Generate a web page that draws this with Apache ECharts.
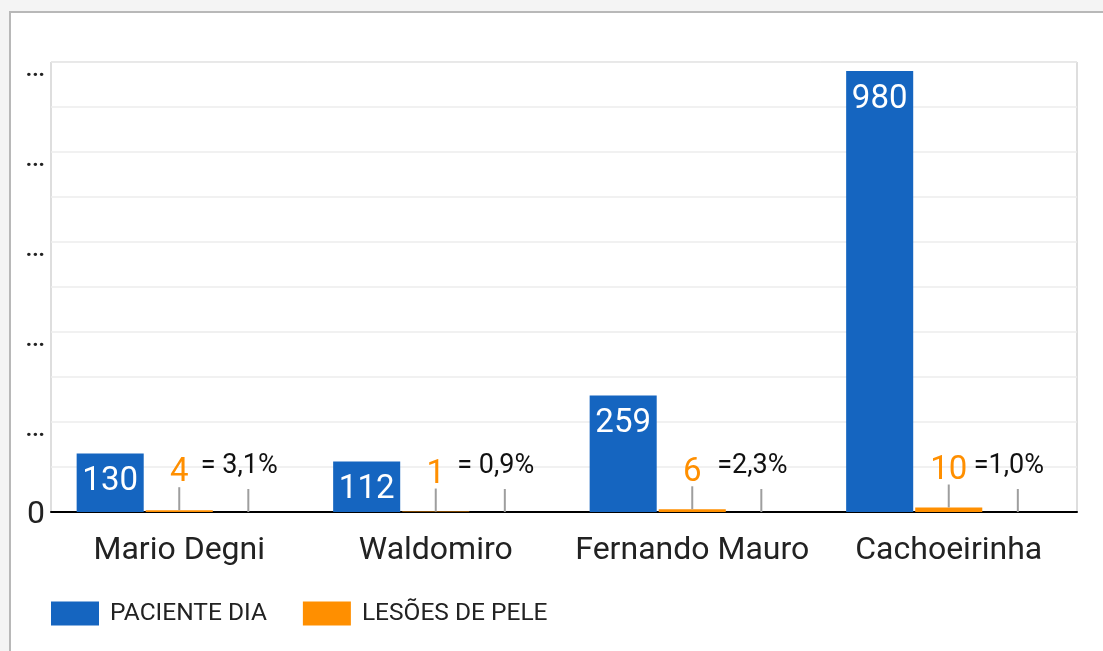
<!DOCTYPE html>
<html>
<head>
<meta charset="utf-8">
<script src="https://cdn.jsdelivr.net/npm/echarts@6/dist/echarts.min.js"></script>
<style>
  html, body { margin: 0; padding: 0; background: #f4f4f4; }
  #frame {
    position: absolute; left: 9px; top: 11px; width: 1200px; height: 700px;
    background: #fff; border-left: 2px solid #b8b8b8; border-top: 2px solid #b8b8b8;
  }
  #chart { position: absolute; left: 0; top: 0; width: 1103px; height: 651px; }
</style>
</head>
<body>
<div id="frame"></div>
<div id="chart"></div>
<script>
// dados do gráfico
const categories = ['Mario Degni', 'Waldomiro', 'Fernando Mauro', 'Cachoeirinha'];
const pacienteDia = [130, 112, 259, 980];
const lesoesPele = [4, 1, 6, 10];
const taxaValues = [0, 0, 0, 0];
const taxaLabels = ['= 3,1%', '= 0,9%', '=2,3%', '=1,0%'];
const yTicks = [0, 200, 400, 600, 800, 1000];

const chart = echarts.init(document.getElementById('chart'));

const stem = { width: 2, height: 23, backgroundColor: '#9e9e9e' };

const option = {
  animation: false,
  textStyle: { fontFamily: 'Roboto' },
  grid: {
    left: 51, right: 26, top: 62, bottom: 139,
    show: true, borderColor: '#bdbdbd', borderWidth: 1
  },
  legend: {
    data: ['PACIENTE DIA', 'LESÕES DE PELE'],
    left: 51, top: 601, padding: 0,
    icon: 'rect', itemWidth: 48, itemHeight: 24, itemGap: 36,
    textStyle: { fontSize: 24.5, color: '#222', padding: [0, 0, 0, 6] }
  },
  xAxis: {
    type: 'category',
    data: categories,
    axisLine: { lineStyle: { color: '#000', width: 2 } },
    axisTick: { show: false },
    axisLabel: { interval: 0, fontSize: 32, color: '#222', margin: 23 }
  },
  yAxis: {
    type: 'value',
    min: 0, max: 1000, interval: 100,
    axisLine: { show: false },
    axisTick: { show: false },
    splitLine: { lineStyle: { color: '#ececec', width: 1.5 } },
    axisLabel: {
      margin: 6,
      formatter: (v) => {
        if (!yTicks.includes(v)) return '';
        return v === 0 ? '{z|0}' : '{d|...}';
      },
      rich: {
        z: { fontSize: 32, color: '#222', padding: [6, 0, 0, 0] },
        d: { fontSize: 22, color: '#222', fontWeight: 'bold', padding: [16, 0, 0, 0] }
      }
    }
  },
  series: [
    {
      name: 'PACIENTE DIA',
      type: 'bar',
      data: pacienteDia,
      barGap: '3%',
      barCategoryGap: '20%',
      itemStyle: { color: '#1565c0' },
      label: {
        show: true, position: 'insideTop', distance: 12,
        color: '#fff', fontSize: 33
      }
    },
    {
      name: 'LESÕES DE PELE',
      type: 'bar',
      data: lesoesPele,
      itemStyle: { color: '#ff8f00' },
      label: {
        show: true, position: 'top', distance: 0,
        formatter: (p) => '{v|' + p.value + '}\n{s|}',
        rich: {
          v: { fontSize: 33, color: '#ff8f00', lineHeight: 28 },
          s: stem
        }
      }
    },
    {
      name: 'taxa',
      type: 'bar',
      data: taxaValues.map((v, i) => ({ value: v, label: { formatter: '{t|' + taxaLabels[i] + '}\n{s|}' } })),
      itemStyle: { color: 'transparent' },
      label: {
        show: true, position: 'top', distance: 0,
        rich: {
          t: { fontSize: 27, color: '#111', lineHeight: 46, padding: [0, 18, 0, 0] },
          s: stem
        }
      }
    }
  ]
};

chart.setOption(option);
</script>
</body>
</html>
